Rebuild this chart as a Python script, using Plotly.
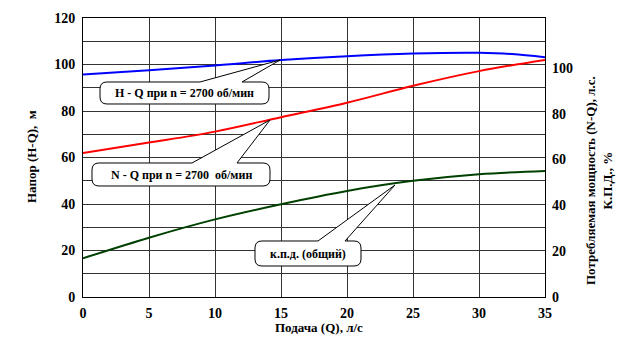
import plotly.graph_objects as go

# Data
q = [0, 5, 10, 15, 20, 25, 30, 32.5, 35]
head = [95.7, 97.5, 99.6, 101.9, 103.6, 104.7, 105.0, 104.5, 103.1]
q2 = [0, 5, 10, 15, 20, 25, 30, 35]
power = [62.9, 67.4, 72.2, 78.5, 84.8, 92.2, 98.6, 103.5]
eff = [16.9, 25.9, 33.9, 40.5, 46.3, 50.7, 53.6, 55.0]

x_ticks = [0, 5, 10, 15, 20, 25, 30, 35]
y_ticks = [0, 20, 40, 60, 80, 100, 120]
y2_ticks = [0, 20, 40, 60, 80, 100]

W, H = 632, 342
L, R, T, B = 83, 87, 18, 45
PW, PH = W - L - R, H - T - B
FONT = "Liberation Serif, Times New Roman, serif"


def px(x, y):
    return (x - L) / PW, (H - B - y) / PH


def callout(x0, y0, x1, y1, bx0, bx1, tx, ty, r=7):
    pts = []
    def P(cmd, *xy):
        s = cmd
        for i in range(0, len(xy), 2):
            a, b = px(xy[i], xy[i + 1])
            s += f" {a:.5f},{b:.5f}"
        pts.append(s)
    P("M", x0 + r, y0)
    P("L", bx0, y0)
    P("L", tx, ty)
    P("L", bx1, y0)
    P("L", x1 - r, y0)
    P("Q", x1, y0, x1, y0 + r)
    P("L", x1, y1 - r)
    P("Q", x1, y1, x1 - r, y1)
    P("L", x0 + r, y1)
    P("Q", x0, y1, x0, y1 - r)
    P("L", x0, y0 + r)
    P("Q", x0, y0, x0 + r, y0)
    return dict(type="path", xref="paper", yref="paper", path=" ".join(pts) + " Z",
                fillcolor="white", line=dict(color="black", width=1), layer="above")


fig = go.Figure()
fig.add_trace(go.Scatter(x=q, y=head, mode="lines", line=dict(color="#0000FF", width=2, shape="spline"),
                         name="H-Q", showlegend=False))
fig.add_trace(go.Scatter(x=q2, y=power, mode="lines", line=dict(color="#FF0000", width=2, shape="spline"),
                         name="N-Q", yaxis="y2", showlegend=False))
fig.add_trace(go.Scatter(x=q2, y=eff, mode="lines", line=dict(color="#004000", width=2, shape="spline"),
                         name="КПД", yaxis="y2", showlegend=False))

tickfont = dict(family=FONT, size=14, color="black", weight="bold")
fig.update_layout(
    width=W, height=H,
    margin=dict(l=L, r=R, t=T, b=B),
    paper_bgcolor="white", plot_bgcolor="white",
    font=dict(family=FONT, color="black"),
    xaxis=dict(range=[0, 35], tickvals=x_ticks, showgrid=True, gridcolor="#333333", gridwidth=1,
               showline=True, linecolor="black", linewidth=1, mirror=True, ticks="",
               tickfont=tickfont, zeroline=False, ticklabelstandoff=3),
    yaxis=dict(range=[0, 120], tickvals=y_ticks, showgrid=True, gridcolor="#333333", gridwidth=1,
               minor=dict(dtick=10, showgrid=True, gridcolor="#333333", gridwidth=1),
               showline=True, linecolor="black", linewidth=1, mirror=True, ticks="",
               tickfont=tickfont, zeroline=False, ticklabelstandoff=4),
    yaxis2=dict(range=[0, 121.8], tickvals=y2_ticks, overlaying="y", side="right", showgrid=False,
                ticks="", tickfont=tickfont, zeroline=False, showline=False, ticklabelstandoff=6),
)

shapes = [
    callout(100, 82, 269, 104, 200, 242, 280, 60),
    callout(92, 163, 270, 186, 192, 237, 270, 120),
    callout(255, 241, 361, 266, 318, 345, 395, 185),
]
fig.update_layout(shapes=shapes)

anns = []
def ann(text, x, y, angle=0, size=12):
    a, b = px(x, y)
    anns.append(dict(text=text, x=a, y=b, xref="paper", yref="paper", showarrow=False,
                     textangle=angle, xanchor="center", yanchor="middle",
                     font=dict(family=FONT, size=size, color="black", weight="bold")))

ann("H - Q при n = 2700 об/мин", 184.5, 93)
ann("N - Q при n = 2700  об/мин", 181, 174.5)
ann("к.п.д. (общий)", 308, 253.5)
ann("Напор (H-Q),  м", 31, 157, -90, 13)
ann("Подача (Q), л/с", 319, 327, 0, 13)
ann("Потребляемая мощность (N-Q), л.с.<br>К.П.Д., %", 599, 181, -90, 13)
fig.update_layout(annotations=anns)

fig.write_html("out.html")
